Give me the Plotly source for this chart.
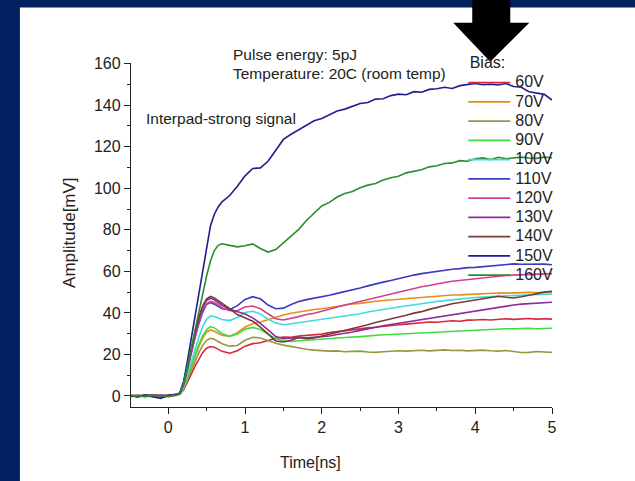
import plotly.graph_objects as go

# ---------------- data ----------------
t_ns = [-0.5, -0.4, -0.3, -0.2, -0.1, 0.0, 0.1,
        0.15, 0.2, 0.25, 0.3, 0.35, 0.4, 0.45, 0.5, 0.55, 0.6, 0.65, 0.7,
        0.8, 0.9, 1.0, 1.1, 1.2, 1.3, 1.4, 1.5, 1.6, 1.7,
        1.8, 1.9, 2.0, 2.1, 2.2, 2.3, 2.4, 2.5, 2.6, 2.7,
        2.8, 2.9, 3.0, 3.1, 3.2, 3.3, 3.4, 3.5, 3.6, 3.7,
        3.8, 3.9, 4.0, 4.1, 4.2, 4.3, 4.4, 4.5, 4.6, 4.7,
        4.8, 4.9, 5.0]

bias_labels = ["60V", "70V", "80V", "90V", "100V", "110V",
               "120V", "130V", "140V", "150V", "160V"]

amp_60V = [0.2, -0.3, 0.1, 0.4, -0.2, 0.3, 0.5,
           0.8, 3.0, 6.5, 10.5, 14.5, 18.0, 21.0, 23.0, 23.8, 23.5, 22.5, 21.5,
           20.6, 21.8, 24.0, 25.2, 25.6, 26.8, 27.8, 28.4, 28.2, 28.9,
           29.1, 29.4, 29.8, 30.5, 31.0, 31.6, 31.9, 32.3, 32.8, 33.1,
           33.6, 33.8, 34.3, 34.6, 35.0, 35.2, 35.6, 35.5, 35.9, 36.2,
           36.0, 36.5, 36.6, 36.8, 36.6, 37.0, 37.2, 36.9, 37.1, 37.3,
           37.0, 37.2, 37.0]
amp_70V = [0.1, 0.3, -0.2, 0.2, 0.4, -0.1, 0.6,
           1.0, 4.0, 9.0, 14.5, 19.5, 24.0, 28.0, 30.8, 31.8, 31.2, 30.2, 29.3,
           28.8, 30.5, 33.2, 34.8, 35.6, 36.8, 38.0, 39.0, 39.8, 40.5,
           41.0, 41.6, 42.0, 42.6, 43.3, 43.8, 44.3, 44.6, 45.2, 45.6,
           46.0, 46.3, 46.8, 47.1, 47.4, 47.6, 47.9, 48.1, 48.3, 48.6,
           48.7, 48.9, 49.1, 49.0, 49.4, 49.6, 49.5, 49.7, 49.6, 49.9,
           49.8, 50.0, 49.9]
amp_80V = [-0.2, 0.2, 0.3, -0.1, 0.2, 0.4, 0.3,
           0.9, 3.6, 8.0, 12.5, 17.0, 21.0, 24.5, 26.8, 27.8, 27.3, 26.2, 25.2,
           24.0, 24.3, 26.8, 28.3, 27.9, 26.6, 25.4, 24.5, 23.8, 23.2,
           22.5, 22.1, 21.8, 21.6, 21.7, 21.3, 21.5, 21.6, 21.2, 21.0,
           21.3, 21.5, 21.8, 21.6, 21.9, 22.0, 21.7, 22.1, 22.2, 21.9,
           22.0, 21.7, 22.0, 22.1, 21.8, 21.6, 21.9, 21.3, 20.9, 21.0,
           21.4, 21.2, 21.0]
amp_90V = [0.3, 0.0, -0.3, 0.2, 0.1, -0.2, 0.4,
           1.0, 4.0, 9.5, 15.0, 20.5, 25.0, 29.0, 32.0, 33.4, 32.8, 31.5, 30.0,
           28.7, 29.8, 32.2, 33.0, 32.0, 29.8, 27.6, 26.6, 26.3, 26.6,
           26.9, 27.0, 27.3, 27.6, 27.9, 28.2, 28.4, 28.6, 29.0, 29.2,
           29.5, 29.6, 29.8, 30.0, 30.2, 30.4, 30.5, 30.8, 31.0, 31.2,
           31.3, 31.6, 31.9, 32.1, 32.0, 32.3, 32.4, 32.3, 32.5, 32.6,
           32.4, 32.6, 32.6]
amp_100V = [0.1, 0.2, 0.0, -0.3, 0.3, 0.1, 0.5,
            1.0, 4.5, 10.5, 17.0, 23.0, 28.5, 33.5, 37.0, 38.6, 38.3, 37.5, 36.8,
            36.3, 37.8, 40.2, 40.8, 39.5, 37.0, 35.2, 34.3, 34.8, 35.3,
            36.0, 36.6, 37.0, 37.6, 38.1, 38.5, 39.0, 39.6, 40.4, 41.1,
            41.6, 42.2, 42.8, 43.4, 43.9, 44.4, 44.9, 45.5, 45.9, 46.3,
            46.8, 47.1, 47.4, 47.6, 47.9, 48.1, 48.2, 48.3, 48.5, 48.7,
            48.8, 49.0, 49.1]
amp_110V = [-0.3, 0.1, 0.4, 0.0, -0.4, 0.2, 0.6,
            1.2, 5.5, 13.0, 21.0, 28.5, 35.0, 40.5, 44.2, 45.0, 44.2, 43.0, 42.0,
            41.5, 43.5, 46.5, 47.8, 46.8, 43.8, 42.0, 42.3, 44.0, 45.5,
            46.4, 47.0, 47.6, 48.5, 49.4, 50.2, 51.0, 52.0, 53.0, 54.0,
            54.8, 55.6, 56.5, 57.5, 58.2, 58.9, 59.4, 60.2, 60.7, 61.0,
            61.3, 61.8, 61.9, 62.2, 62.4, 62.8, 63.3, 63.6, 63.4, 63.5,
            63.7, 63.5, 63.2]
amp_120V = [0.2, -0.2, 0.1, 0.3, 0.0, -0.3, 0.4,
            1.2, 5.5, 13.0, 21.0, 29.0, 36.0, 41.5, 44.5, 45.5, 45.0, 43.8, 42.5,
            41.0, 41.0, 42.8, 43.3, 42.0, 39.5, 37.2, 36.6, 37.3, 38.2,
            39.2, 39.8, 40.8, 41.8, 43.0, 43.8, 44.6, 45.5, 46.6, 47.5,
            48.2, 49.0, 50.0, 51.0, 51.9, 52.6, 53.2, 54.0, 54.6, 55.2,
            55.6, 56.2, 56.6, 57.0, 57.5, 57.8, 58.0, 58.2, 58.4, 58.6,
            58.5, 58.8, 58.9]
amp_130V = [0.0, 0.3, -0.2, 0.1, 0.5, 0.2, 0.7,
            1.3, 6.0, 14.0, 22.5, 30.5, 37.5, 43.0, 46.0, 47.0, 46.3, 45.0, 43.6,
            41.8, 40.8, 39.5, 37.6, 35.0, 31.8, 28.6, 27.6, 27.8, 28.2,
            28.0, 28.3, 28.4, 28.9, 29.6, 30.1, 30.8, 31.6, 32.4, 33.1,
            33.8, 34.4, 35.0, 35.7, 36.3, 36.9, 37.4, 38.0, 38.5, 39.2,
            39.8, 40.5, 41.1, 41.6, 42.2, 42.8, 43.3, 43.8, 44.2, 44.5,
            44.8, 45.0, 45.1]
amp_140V = [0.4, -0.1, 0.2, 0.6, -0.2, 0.1, 0.5,
            1.3, 6.0, 14.5, 23.0, 31.0, 38.0, 43.5, 46.8, 47.9, 47.2, 46.0, 44.8,
            42.0, 39.2, 37.5, 36.0, 33.2, 29.8, 26.5, 26.0, 26.8, 28.2,
            27.6, 27.9, 28.8, 29.6, 30.6, 31.6, 32.4, 33.5, 34.3, 35.4,
            36.2, 37.0, 38.1, 38.9, 39.9, 40.6, 41.7, 42.6, 43.7, 44.4,
            45.0, 45.6, 46.2, 46.8, 47.6, 48.0, 47.5, 47.2, 47.8, 48.6,
            49.3, 50.0, 50.4]
amp_150V = [0.3, -0.5, 0.4, -0.3, -1.2, 0.2, 0.6,
            1.5, 7.0, 17.0, 28.0, 39.0, 50.0, 61.0, 72.0, 82.0, 87.5, 91.0, 93.5,
            96.5, 101.0, 106.0, 109.5, 109.8, 113.0, 118.5, 123.5, 126.0, 128.3,
            130.5, 132.5, 133.6, 135.5, 137.2, 138.1, 139.4, 140.8, 141.3, 142.9,
            143.1, 144.6, 145.3, 145.0, 146.5, 146.2, 147.6, 147.9, 148.6, 148.0,
            149.4, 150.0, 150.5, 149.8, 150.1, 149.7, 150.4, 149.0, 148.6, 146.5,
            146.0, 145.2, 142.5]
amp_160V = [0.2, 0.0, -0.2, 0.3, 0.1, -0.1, 0.5,
            1.3, 6.0, 14.0, 23.0, 32.0, 41.0, 50.0, 58.0, 65.0, 70.0, 72.5, 73.3,
            72.5, 71.8, 72.3, 73.2, 71.0, 69.3, 70.5, 73.8, 76.8, 80.2,
            84.5, 88.0, 91.5, 93.2, 95.8, 97.5, 98.4, 100.2, 101.5, 102.3,
            104.0, 105.1, 105.8, 107.4, 108.2, 108.9, 110.3, 110.8, 111.9, 112.2,
            113.3, 113.0, 114.2, 114.6, 113.8, 114.9, 114.2, 114.6, 115.0, 114.6,
            114.4, 115.0, 114.7]

x_ticks = [0, 1, 2, 3, 4, 5]
y_ticks = [0, 20, 40, 60, 80, 100, 120, 140, 160]

series = [amp_60V, amp_70V, amp_80V, amp_90V, amp_100V, amp_110V,
          amp_120V, amp_130V, amp_140V, amp_150V, amp_160V]
colors = ["#d7263d", "#e58e1a", "#9b9440", "#3fdc3f", "#3fdada", "#3b3bbf",
          "#d2408f", "#8e2a9e", "#7a3a3a", "#1f1f8f", "#2e8b2e"]

for s in series:
    assert len(s) == len(t_ns), len(s)

# ---------------- layout helpers ----------------
FONT = "Arial, 'Liberation Sans', sans-serif"
WIDTH, HEIGHT = 635, 481
L, R, T, B = 131.0, 551.7, 63.3, 406.7


def px(X):
    return (X - L) / (R - L)


def py(Y):
    return (B - Y) / (B - T)


fig = go.Figure()
for lab, ys, c in zip(bias_labels, series, colors):
    fig.add_trace(go.Scatter(
        x=t_ns, y=ys, mode="lines",
        name='<span style="font-size:16px">' + lab + '</span>',
        line=dict(color=c, width=1.6),
    ))

axis_common = dict(
    showline=True, linecolor="#222", linewidth=1.4,
    ticks="outside", ticklen=6, tickwidth=1.4, tickcolor="#222",
    showgrid=False, zeroline=False,
    tickfont=dict(family=FONT, size=16, color="#222"),
)

fig.update_xaxes(range=[-0.486, 5.0], tickmode="array", tickvals=x_ticks,
                 minor=dict(ticks="outside", ticklen=3, tickwidth=1.4,
                            tickcolor="#222", dtick=0.5, tick0=0, showgrid=False),
                 **axis_common)
fig.update_yaxes(range=[-5.3, 160.3], tickmode="array", tickvals=y_ticks,
                 minor=dict(ticks="outside", ticklen=3, tickwidth=1.4,
                            tickcolor="#222", dtick=10, tick0=0, showgrid=False),
                 **axis_common)

shapes = [
    dict(type="rect", xref="paper", yref="paper", layer="below",
         x0=px(20), x1=px(645), y0=py(495), y1=py(8),
         fillcolor="white", line=dict(width=0)),
    dict(type="path", xref="paper", yref="paper", layer="above",
         path=("M{a},{b} L{c},{b} L{c},{d} L{e},{d} L{f},{g} L{h},{d} L{a},{d} Z"
               .format(a=px(472), b=py(-5), c=px(510), d=py(23),
                       e=px(529), f=px(490), g=py(62), h=px(453))),
         fillcolor="black", line=dict(width=0)),
]

annotations = [
    dict(text="Pulse energy: 5pJ", xref="paper", yref="paper",
         x=px(231), y=py(55), xanchor="left", yanchor="middle", showarrow=False,
         font=dict(family=FONT, size=15.5, color="#222")),
    dict(text="Temperature: 20C (room temp)", xref="paper", yref="paper",
         x=px(231), y=py(73.5), xanchor="left", yanchor="middle", showarrow=False,
         font=dict(family=FONT, size=15.5, color="#222")),
    dict(text="Interpad-strong signal", xref="paper", yref="paper",
         x=px(144), y=py(118.5), xanchor="left", yanchor="middle", showarrow=False,
         font=dict(family=FONT, size=15.5, color="#222")),
    dict(text="Time[ns]", xref="paper", yref="paper",
         x=px(310), y=py(462), xanchor="center", yanchor="middle", showarrow=False,
         font=dict(family=FONT, size=16, color="#222")),
    dict(text="Amplitude[mV]", xref="paper", yref="paper", textangle=-90,
         x=px(70), y=py(232), xanchor="center", yanchor="middle", showarrow=False,
         font=dict(family=FONT, size=17, color="#222")),
]

fig.update_layout(
    width=WIDTH, height=HEIGHT,
    margin=dict(l=L, r=WIDTH - R, t=T, b=HEIGHT - B, pad=0),
    paper_bgcolor="#002060", plot_bgcolor="rgba(0,0,0,0)",
    font=dict(family=FONT, color="#222"),
    shapes=shapes, annotations=annotations,
    showlegend=True,
    legend=dict(x=px(463), y=py(47.5), xanchor="left", yanchor="top",
                bgcolor="rgba(0,0,0,0)", borderwidth=0,
                font=dict(family=FONT, size=12.5, color="#222"),
                title=dict(text="&nbsp;Bias:",
                           font=dict(family=FONT, size=16, color="#222")),
                itemwidth=42, tracegroupgap=0, maxheight=1000),
)

fig.write_html(
    "out.html",
    config={"displayModeBar": False},
    post_script=("document.body.style.margin='0';"
                 "document.body.style.overflow='hidden';"
                 "document.body.style.background='#002060';"),
)
